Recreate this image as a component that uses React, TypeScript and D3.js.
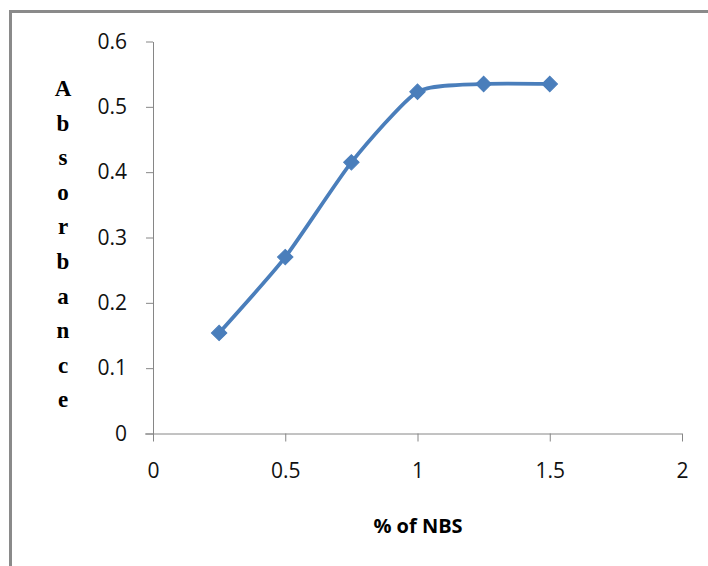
import React, { useEffect, useRef } from "react";
import * as d3 from "d3";

const nbsPercent = [0.25, 0.5, 0.75, 1, 1.25, 1.5];
const absorbance = [0.154, 0.27, 0.415, 0.523, 0.535, 0.535];
const xTicks = [0, 0.5, 1, 1.5, 2];
const yTicks = [0, 0.1, 0.2, 0.3, 0.4, 0.5, 0.6];
const yLabelLetters = ["A", "b", "s", "o", "r", "b", "a", "n", "c", "e"];

const App: React.FC = () => {
  const svgRef = useRef<SVGSVGElement>(null);
  const width = 708;
  const height = 566;

  useEffect(() => {
    document.body.style.margin = "0";
    if (!svgRef.current) return;

    const svg = d3.select(svgRef.current);
    svg.selectAll("*").remove();

    const axisColor = "#868686";
    const seriesColor = "#4a7ebb";
    const tickFont = "'Open Sans', 'Liberation Sans', sans-serif";

    // Scales
    const xScale = d3.scaleLinear().domain([0, 2]).range([153, 682]);
    const yScale = d3.scaleLinear().domain([0, 0.6]).range([433.5, 41.5]);

    // Outer frame (only top and left edges show)
    svg
      .append("path")
      .attr("d", `M10.5,${height} L10.5,11.5 L${width},11.5`)
      .attr("fill", "none")
      .attr("stroke", "#8a8a8a")
      .attr("stroke-width", 3);

    // Axes
    const xAxis = svg
      .append("g")
      .attr("transform", `translate(0,${yScale(0)})`)
      .call(
        d3
          .axisBottom(xScale)
          .tickValues(xTicks)
          .tickSize(8)
          .tickSizeOuter(0)
          .tickPadding(22)
          .tickFormat((d) => `${d}`)
      );
    xAxis.select(".domain").attr("stroke", axisColor).attr("d", `M145,0.5H${xScale(2)}`);
    xAxis.selectAll("line").attr("stroke", axisColor);
    xAxis
      .selectAll("text")
      .attr("fill", "#111")
      .attr("font-family", tickFont)
      .attr("font-size", "21px");

    const yAxis = svg
      .append("g")
      .attr("transform", `translate(${xScale(0)},0)`)
      .call(
        d3
          .axisLeft(yScale)
          .tickValues(yTicks)
          .tickSize(7)
          .tickSizeOuter(0)
          .tickPadding(19)
          .tickFormat((d) => `${d}`)
      );
    yAxis.select(".domain").attr("stroke", axisColor);
    yAxis.selectAll("line").attr("stroke", axisColor);
    yAxis
      .selectAll("text")
      .attr("fill", "#111")
      .attr("font-family", tickFont)
      .attr("font-size", "21px");

    // Axis titles
    svg
      .append("text")
      .attr("x", 418)
      .attr("y", 533)
      .attr("text-anchor", "middle")
      .attr("font-family", tickFont)
      .attr("font-weight", "bold")
      .attr("font-size", "20px")
      .text("% of NBS");

    // vertical stacked letters, one per line
    const yTitle = svg
      .append("text")
      .attr("font-family", "'Liberation Serif', 'Times New Roman', serif")
      .attr("font-weight", "bold")
      .attr("font-size", "23px")
      .attr("text-anchor", "middle");
    yLabelLetters.forEach((letter, i) => {
      yTitle
        .append("tspan")
        .attr("x", 63)
        .attr("y", 96 + i * 34.6)
        .text(letter);
    });

    // Series
    const points = nbsPercent.map((x, i) => [x, absorbance[i]] as [number, number]);
    const line = d3
      .line<[number, number]>()
      .x((d) => xScale(d[0]))
      .y((d) => yScale(d[1]))
      .curve(d3.curveCardinal.tension(0.4));

    svg
      .append("path")
      .datum(points)
      .attr("d", line)
      .attr("fill", "none")
      .attr("stroke", seriesColor)
      .attr("stroke-width", 3.75)
      .attr("stroke-linejoin", "round");

    const diamond = d3.symbol().type(d3.symbolSquare).size(120);
    svg
      .selectAll("path.marker")
      .data(points)
      .enter()
      .append("path")
      .attr("class", "marker")
      .attr("d", diamond)
      .attr(
        "transform",
        (d) => `translate(${xScale(d[0])},${yScale(d[1])}) rotate(45)`
      )
      .attr("fill", seriesColor)
      .attr("stroke", seriesColor)
      .attr("stroke-width", 1);
  }, []);

  return (
    <div style={{ width, height, background: "#fff" }}>
      <svg ref={svgRef} width={width} height={height} style={{ display: "block" }} />
    </div>
  );
};

export default App;
